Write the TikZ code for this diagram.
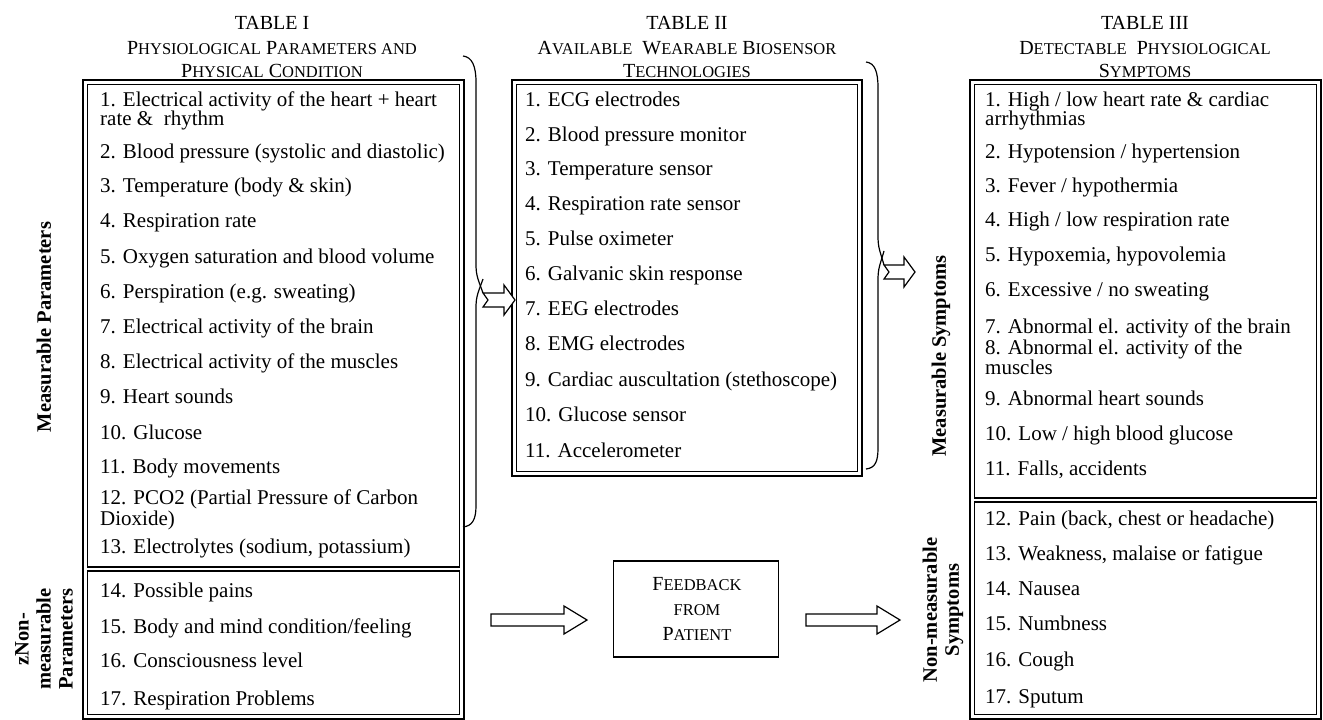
\documentclass[tikz,border=0pt]{standalone}
\usepackage{fontspec}
\setmainfont{Liberation Serif}
\newcommand{\smc}[1]{{\fontsize{16.5}{20}\selectfont #1}}
\begin{document}
\begin{tikzpicture}[x=1pt,y=-1pt,
  item/.style={anchor=base west, inner sep=0pt, font=\fontsize{21}{20}\selectfont},
  ttl/.style={anchor=base, inner sep=0pt, font=\fontsize{20}{24}\selectfont},
  lab/.style={inner sep=0pt, rotate=90, align=center, font=\fontsize{20.5}{22}\selectfont\bfseries},
  outerbox/.style={draw, line width=1.8pt},
  innerbox/.style={draw, line width=1.2pt},
  brace/.style={draw, line width=1.2pt},
  hollow/.style={draw, line width=1.2pt, fill=white, line join=miter}]
\useasboundingbox (0,0) rectangle (1323,720);

% ---------- titles ----------
\node[ttl] (t1a) at (272,29) {TABLE I};
\node[ttl] (t1b) at (272,54) {P\smc{HYSIOLOGICAL} P\smc{ARAMETERS AND}};
\node[ttl] (t1c) at (272,77) {P\smc{HYSICAL} C\smc{ONDITION}};
\node[ttl] (t2a) at (687,29) {TABLE II};
\node[ttl] (t2b) at (687,54) {A\smc{VAILABLE}\ \ W\smc{EARABLE} B\smc{IOSENSOR}};
\node[ttl] (t2c) at (687,77) {T\smc{ECHNOLOGIES}};
\node[ttl] (t3a) at (1145,29) {TABLE III};
\node[ttl] (t3b) at (1145,54) {D\smc{ETECTABLE}\ \ P\smc{HYSIOLOGICAL}};
\node[ttl] (t3c) at (1145,77) {S\smc{YMPTOMS}};

% ---------- frames ----------
\draw[outerbox] (83,80) rectangle (464,719);
\draw[innerbox] (87.5,84.5) rectangle (459.5,567);
\draw[innerbox] (87.5,571) rectangle (459.5,714.5);
\draw[outerbox] (512,80) rectangle (862,476);
\draw[innerbox] (516.5,84.5) rectangle (857.5,471.5);
\draw[outerbox] (970,80) rectangle (1321,719);
\draw[innerbox] (974.5,84.5) rectangle (1316.5,498);
\draw[innerbox] (974.5,502) rectangle (1316.5,714.5);

% ---------- Table I ----------
\node[item] (p1) at (100,106) {1. Electrical activity of the heart + heart};
\node[item] (p1b) at (100,125) {rate \&\ \ rhythm};
\node[item] (p2) at (100,158) {2. Blood pressure (systolic and diastolic)};
\node[item] (p3) at (100,192) {3. Temperature (body \& skin)};
\node[item] (p4) at (100,227) {4. Respiration rate};
\node[item] (p5) at (100,263) {5. Oxygen saturation and blood volume};
\node[item] (p6) at (100,298) {6. Perspiration (e.g. sweating)};
\node[item] (p7) at (100,333) {7. Electrical activity of the brain};
\node[item] (p8) at (100,368) {8. Electrical activity of the muscles};
\node[item] (p9) at (100,403) {9. Heart sounds};
\node[item] (p10) at (100,439) {10. Glucose};
\node[item] (p11) at (100,473) {11. Body movements};
\node[item] (p12) at (100,504) {12. PCO2 (Partial Pressure of Carbon};
\node[item] (p12b) at (100,525) {Dioxide)};
\node[item] (p13) at (100,553) {13. Electrolytes (sodium, potassium)};
\node[item] (p14) at (100,597) {14. Possible pains};
\node[item] (p15) at (100,633) {15. Body and mind condition/feeling};
\node[item] (p16) at (100,667) {16. Consciousness level};
\node[item] (p17) at (100,705) {17. Respiration Problems};

% ---------- Table II ----------
\node[item] (s1) at (525,106) {1. ECG electrodes};
\node[item] (s2) at (525,141) {2. Blood pressure monitor};
\node[item] (s3) at (525,175) {3. Temperature sensor};
\node[item] (s4) at (525,210) {4. Respiration rate sensor};
\node[item] (s5) at (525,245) {5. Pulse oximeter};
\node[item] (s6) at (525,280) {6. Galvanic skin response};
\node[item] (s7) at (525,315) {7. EEG electrodes};
\node[item] (s8) at (525,350) {8. EMG electrodes};
\node[item] (s9) at (525,386) {9. Cardiac auscultation (stethoscope)};
\node[item] (s10) at (525,421) {10. Glucose sensor};
\node[item] (s11) at (525,457) {11. Accelerometer};

% ---------- Table III ----------
\node[item] (y1) at (985,106) {1. High / low heart rate \& cardiac};
\node[item] (y1b) at (985,125) {arrhythmias};
\node[item] (y2) at (985,158) {2. Hypotension / hypertension};
\node[item] (y3) at (985,192) {3. Fever / hypothermia};
\node[item] (y4) at (985,226) {4. High / low respiration rate};
\node[item] (y5) at (985,261) {5. Hypoxemia, hypovolemia};
\node[item] (y6) at (985,296) {6. Excessive / no sweating};
\node[item] (y7) at (985,333) {7. Abnormal el. activity of the brain};
\node[item] (y8) at (985,354) {8. Abnormal el. activity of the};
\node[item] (y8b) at (985,374) {muscles};
\node[item] (y9) at (985,405) {9. Abnormal heart sounds};
\node[item] (y10) at (985,440) {10. Low / high blood glucose};
\node[item] (y11) at (985,475) {11. Falls, accidents};
\node[item] (y12) at (985,525) {12. Pain (back, chest or headache)};
\node[item] (y13) at (985,560) {13. Weakness, malaise or fatigue};
\node[item] (y14) at (985,595) {14. Nausea};
\node[item] (y15) at (985,630) {15. Numbness};
\node[item] (y16) at (985,666) {16. Cough};
\node[item] (y17) at (985,703) {17. Sputum};

% ---------- side labels ----------
\node[lab] (lmp) at (44,327) {Measurable Parameters};
\node[lab] (lnp) at (44,639) {zNon-\\measurable\\Parameters};
\node[lab] (lms) at (941,356) {Measurable Symptoms};
\node[lab] (lns) at (943,610) {Non-measurable\\Symptoms};

% ---------- feedback box ----------
\node[draw, line width=1.2pt, minimum width=165pt, minimum height=96pt, inner sep=0pt] (fb) at (696,609) {};
\node[ttl] (fb1) at (697,590) {F\smc{EEDBACK}};
\node[ttl] (fb2) at (697,615) {\smc{FROM}};
\node[ttl] (fb3) at (697,640) {P\smc{ATIENT}};

% ---------- braces ----------
\coordinate (b1) at (483,286);
\draw[brace] (463,56) .. controls (472,57) and (476,66) .. (476,82) -- (476,264) .. controls (476,276) and (478,279) .. ([yshift=-7pt]b1);
\draw[brace] ([yshift=7pt]b1) .. controls (478,293) and (476,296) .. (476,308) -- (476,506) .. controls (476,520) and (472,526) .. (463,527);
\draw[hollow] ([yshift=-7pt]b1) -- ++(21,0) -- ++(0,-8) -- ++(11,15) -- ++(-11,15) -- ++(0,-8) -- ++(-21,0) -- ++(5,-7) -- cycle;

\coordinate (b2) at (884,258);
\draw[brace] (866,62) .. controls (875,63) and (878,72) .. (878,88) -- (878,236) .. controls (878,248) and (880,251) .. ([yshift=-7pt]b2);
\draw[brace] ([yshift=7pt]b2) .. controls (880,265) and (878,268) .. (878,280) -- (878,448) .. controls (878,462) and (875,468) .. (866,469);
\draw[hollow] ([yshift=-7pt]b2) -- ++(20,0) -- ++(0,-8) -- ++(11,15) -- ++(-11,15) -- ++(0,-8) -- ++(-20,0) -- ++(5,-7) -- cycle;

% ---------- lower arrows ----------
\coordinate (a1) at (491,608);
\draw[hollow] ([yshift=-6pt]a1) -- ++(73,0) -- ++(0,-8) -- ++(23,14) -- ++(-23,14) -- ++(0,-8) -- ++(-73,0) -- cycle;
\coordinate (a2) at (806,608);
\draw[hollow] ([yshift=-6pt]a2) -- ++(71,0) -- ++(0,-8) -- ++(23,14) -- ++(-23,14) -- ++(0,-8) -- ++(-71,0) -- cycle;
\end{tikzpicture}
\end{document}
